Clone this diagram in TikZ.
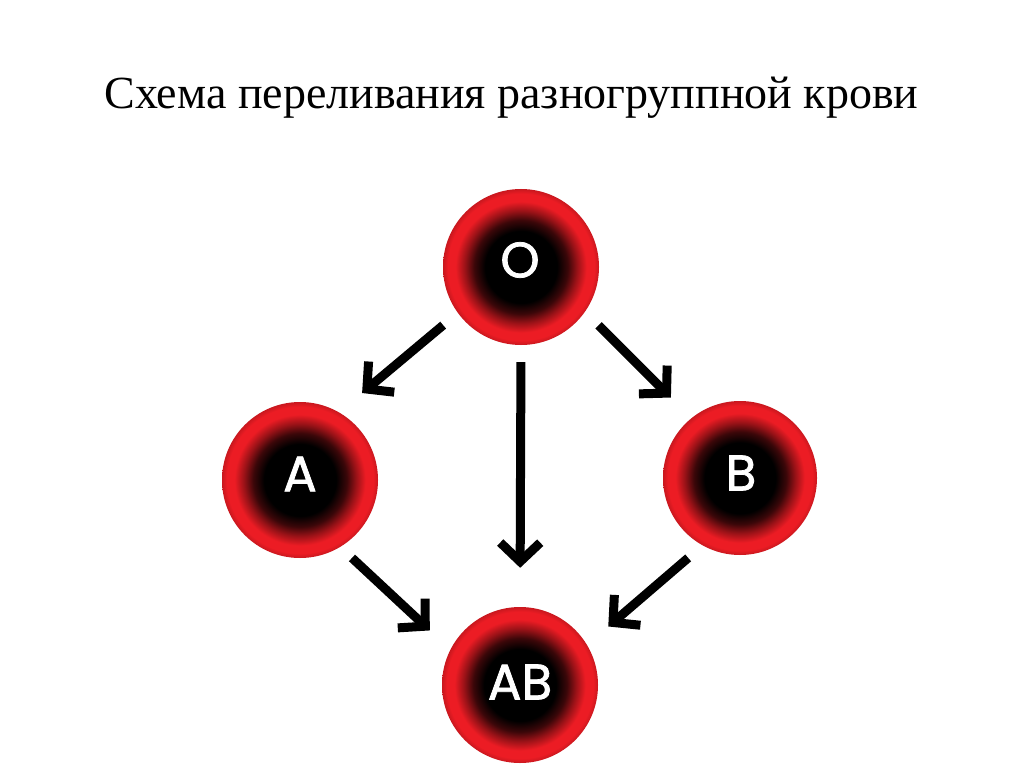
\documentclass[tikz,border=0pt]{standalone}
\usepackage{fontspec}
\setmainfont{Liberation Serif}
\newfontfamily\letfont[FakeBold=1.5]{Poppins}
\usetikzlibrary{arrows.meta,calc}
\definecolor{bred}{RGB}{236,28,36}
\pgfdeclareradialshading{blood}{\pgfpoint{0bp}{0bp}}{color(0bp)=(black); color(11.5bp)=(black); color(15bp)=(bred!25!black); color(18bp)=(bred!65!black); color(21bp)=(bred); color(23.5bp)=(bred); color(25bp)=(bred!85!black); color(50bp)=(bred!85!black)}
\begin{document}
\begin{tikzpicture}[x=1pt,y=-1pt,
  bloodcell/.style={circle, minimum size=156pt, inner sep=0pt, shading=blood},
  lett/.style={text=white, font=\letfont\fontsize{50}{50}\selectfont, inner sep=0pt},
  arr/.style={line width=9pt, line join=miter, -{Straight Barb[length=19pt,width=40pt]}}]
\fill[white] (0,0) rectangle (1024,767);
\useasboundingbox (0,0) rectangle (1024,767);
\node[anchor=base, font=\fontsize{46}{52}\selectfont] (title) at (511.5,109) {Схема переливания разногруппной крови};
\node[bloodcell] (O) at (521,267) {};
\node[bloodcell] (A) at (300,480) {};
\node[bloodcell, minimum size=154pt] (B) at (740,478) {};
\node[bloodcell] (AB) at (520,685) {};
\node[lett] (lO) at (520,260) {O};
\node[lett] (lA) at (300,474) {A};
\node[lett] (lB) at (741,473) {B};
\node[lett] (lAB) at (520,682) {AB};
\draw[arr, shorten <=19pt, shorten >=30pt] (O.216) -- (A.60);
\draw[arr, shorten <=19pt, shorten >=29pt] (O.325) -- (B.129);
\draw[arr, shorten <=17pt, shorten >=39pt] (O.south) -- (AB.north);
\draw[arr, shorten <=16pt, shorten >=28pt] (A.301) -- (AB.153);
\draw[arr, shorten <=19pt, shorten >=28pt] (B.241) -- (AB.31);
\end{tikzpicture}
\end{document}
